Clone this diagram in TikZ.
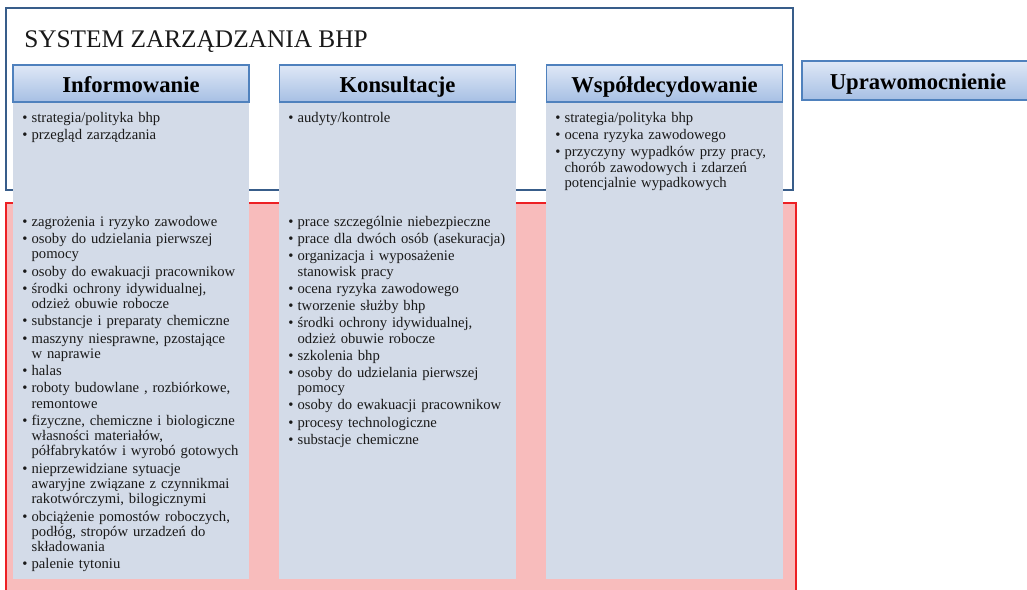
\documentclass[tikz,border=0pt]{standalone}
\usepackage{fontspec}
\setmainfont{Liberation Serif}

\definecolor{ramka}{RGB}{56,93,138}
\definecolor{czerwona}{RGB}{237,32,36}
\definecolor{roz}{RGB}{248,188,188}
\definecolor{tlo}{RGB}{211,219,232}
\definecolor{naglgora}{RGB}{223,232,246}
\definecolor{nagldol}{RGB}{166,191,228}
\definecolor{naglbrzeg}{RGB}{79,129,189}

% punkt listy z wcieciem wiszacym
\newcommand{\pkt}[1]{\par\hangindent=7pt\hangafter=1\noindent\hbox to 7pt{\textbullet\hfil}#1\par\vspace{1.4pt}}

\begin{document}
\begin{tikzpicture}[x=0.75pt, y=-0.75pt,
    naglowek/.style={draw=naglbrzeg, line width=1.2pt, top color=naglgora, bottom color=nagldol,
      minimum width=177pt, minimum height=27.75pt, inner sep=0pt, text height=12.8pt, text depth=0pt,
      font=\fontsize{17}{20}\selectfont\bfseries},
    lista/.style={anchor=base west, inner sep=0pt, text width=172pt, align=left,
      text=black!90, font=\fontsize{11}{11.5}\selectfont}]
  \useasboundingbox (0,0) rectangle (1027,589);

  \draw[ramka, line width=1.5pt, fill=white] (6,8) rectangle (793,190);
  \draw[czerwona, line width=1.5pt, fill=roz] (6,203) rectangle (796,620);
  \node[anchor=base west, inner sep=0pt, font=\fontsize{19}{23}\selectfont, text=black!90] (tytul) at (24,47) {SYSTEM ZARZĄDZANIA BHP};

  % kolumny
  \fill[tlo] (13,102) rectangle (249,579);
  \fill[tlo] (279,102) rectangle (516,579);
  \fill[tlo] (546,102) rectangle (783,579);
  \node[naglowek] (inf) at (131,83.5) {Informowanie};
  \node[naglowek] (kon) at (397.5,83.5) {Konsultacje};
  \node[naglowek] (wsp) at (664.5,83.5) {Współdecydowanie};
  \node[naglowek, minimum width=174pt, minimum height=29.25pt] (upr) at (918,80.5) {Uprawomocnienie};

  \node[lista] (infgora) at (22,107) {%
    \pkt{strategia/polityka bhp}
    \pkt{przegląd zarządzania}};
  \node[lista] (infdol) at (22,211) {%
    \pkt{zagrożenia i ryzyko zawodowe}
    \pkt{osoby do udzielania pierwszej\newline pomocy}
    \pkt{osoby do ewakuacji pracownikow}
    \pkt{środki ochrony idywidualnej,\newline odzież obuwie robocze}
    \pkt{substancje i preparaty chemiczne}
    \pkt{maszyny niesprawne, pzostające\newline w naprawie}
    \pkt{halas}
    \pkt{roboty budowlane , rozbiórkowe,\newline remontowe}
    \pkt{fizyczne, chemiczne i biologiczne\newline własności materiałów,\newline półfabrykatów i wyrobó gotowych}
    \pkt{nieprzewidziane sytuacje\newline awaryjne związane z czynnikmai\newline rakotwórczymi, bilogicznymi}
    \pkt{obciążenie pomostów roboczych,\newline podłóg, stropów urzadzeń do\newline składowania}
    \pkt{palenie tytoniu}};

  \node[lista] (kongora) at (288,107) {%
    \pkt{audyty/kontrole}};
  \node[lista] (kondol) at (288,211) {%
    \pkt{prace szczególnie  niebezpieczne}
    \pkt{prace dla dwóch osób (asekuracja)}
    \pkt{organizacja i wyposażenie\newline stanowisk pracy}
    \pkt{ocena ryzyka zawodowego}
    \pkt{tworzenie służby bhp}
    \pkt{środki ochrony idywidualnej,\newline odzież obuwie robocze}
    \pkt{szkolenia bhp}
    \pkt{osoby do udzielania pierwszej\newline pomocy}
    \pkt{osoby do ewakuacji pracownikow}
    \pkt{procesy technologiczne}
    \pkt{substacje chemiczne}};

  \node[lista] (wspgora) at (555,107) {%
    \pkt{strategia/polityka bhp}
    \pkt{ocena ryzyka zawodowego}
    \pkt{przyczyny wypadków przy pracy,\newline chorób zawodowych i zdarzeń\newline potencjalnie wypadkowych}};
\end{tikzpicture}
\end{document}
